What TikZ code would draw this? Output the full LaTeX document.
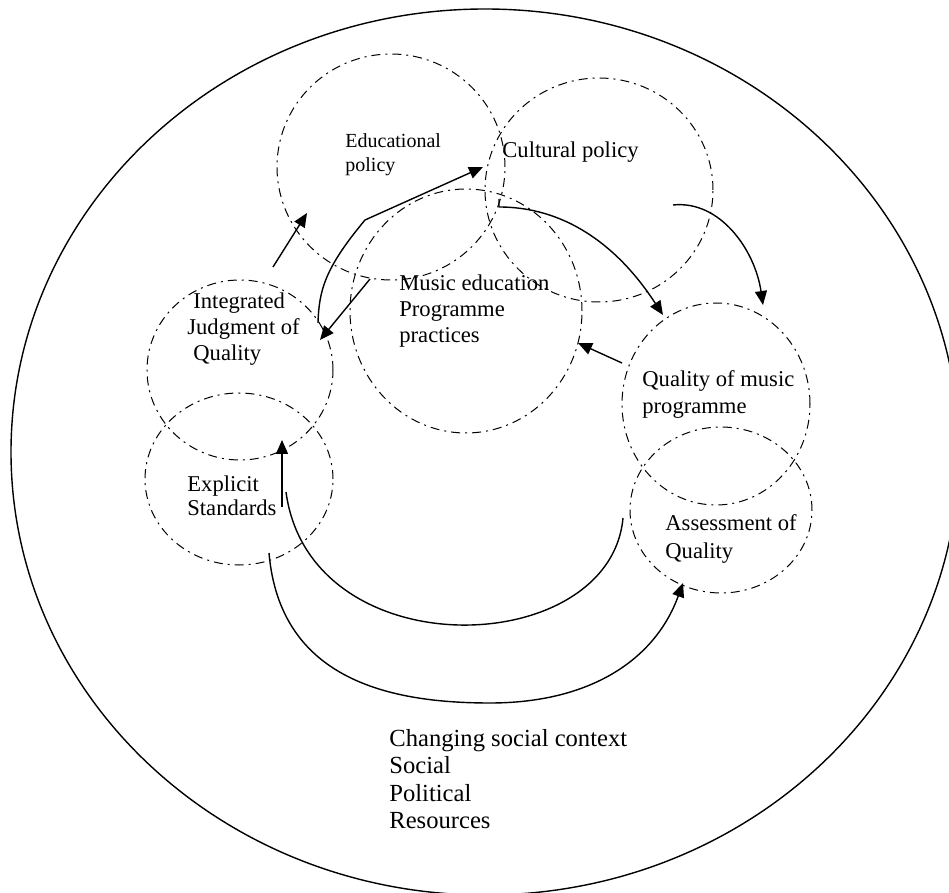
\documentclass[tikz,border=0pt]{standalone}
\usepackage{fontspec}
\setmainfont{Liberation Serif}
\usetikzlibrary{arrows.meta,shapes.geometric}

\begin{document}
\begin{tikzpicture}[x=0.5pt,y=-0.5pt,
ring/.style={draw,ellipse,line width=0.5pt,dash pattern=on 4.5pt off 2.5pt on 1pt off 2.5pt,inner sep=0pt,outer sep=0pt},
lbl/.style={align=left,anchor=west,inner sep=0pt,font=\fontsize{11.3}{13.5}\selectfont},
link/.style={line width=0.7pt},
arr/.style={link,-{Triangle[length=7pt,width=6pt]}}]
\useasboundingbox (0,0) rectangle (949,893);
% outer context
\node[draw,ellipse,line width=0.7pt,minimum width=474pt,minimum height=443pt,inner sep=0pt] (ctx) at (485,452) {};
% dash-dot circles
\node[ring,minimum width=114pt,minimum height=113pt] (edu) at (391,167) {};
\node[ring,minimum width=114pt,minimum height=112pt] (cult) at (599,190) {};
\node[ring,minimum width=116pt,minimum height=122pt] (music) at (466,311) {};
\node[ring,minimum width=93pt,minimum height=90pt] (integ) at (240,370) {};
\node[ring,minimum width=94pt,minimum height=86pt] (expl) at (239,479) {};
\node[ring,minimum width=94pt,minimum height=101pt] (qual) at (716,404) {};
\node[ring,minimum width=91pt,minimum height=83pt] (assess) at (721,510) {};
% labels
\node[lbl,font=\fontsize{10}{12}\selectfont] (edu-t) at (345,155) {Educational\\policy};
\node[lbl] (cult-t) at (502,152) {Cultural policy};
\node[lbl,font=\fontsize{11.3}{13}\selectfont] (music-t) at (399,311) {Music education\\Programme\\practices};
\node[lbl,font=\fontsize{11.3}{13}\selectfont] (integ-t) at (187,329) {\hspace*{3pt}Integrated\\Judgment of\\\hspace*{3pt}Quality};
\node[lbl,font=\fontsize{11.3}{12}\selectfont] (expl-t) at (187,496) {Explicit\\Standards};
\node[lbl] (qual-t) at (642,394) {Quality of music\\programme};
\node[lbl,font=\fontsize{11.3}{14}\selectfont] (assess-t) at (665,539) {Assessment of\\Quality};
\node[lbl,font=\fontsize{12.3}{13.75}\selectfont] (ctx-t) at (389,779) {Changing social context\\Social\\Political\\Resources};
% connector ends
\coordinate (a1s) at (273,267); \coordinate (a1e) at (307,213);
\coordinate (a2s) at (318,323); \coordinate (a2m) at (365,220); \coordinate (a2e) at (483,167);
\coordinate (a3s) at (370,279); \coordinate (a3e) at (320,340);
\coordinate (a4s) at (499,199); \coordinate (a4m) at (499,207); \coordinate (a4e) at (663,315);
\coordinate (a5s) at (673,205); \coordinate (a5e) at (763,305);
\coordinate (a6s) at (622,363); \coordinate (a6e) at (578,343);
\coordinate (a7s) at (623,518); \coordinate (a7e) at (286,492);
\coordinate (a8s) at (282,507); \coordinate (a8e) at (282,440);
\coordinate (a9s) at (269,553); \coordinate (a9m) at (490,703); \coordinate (a9e) at (683,583);
% arrows
\draw[arr](a1s)--(a1e);
\draw[arr](a2s)..controls(319,290)and(325,268)..(a2m)--(a2e);
\draw[arr](a3s)--(a3e);
\draw[arr](a4s)--(a4m)..controls(590,207)and(640,280)..(a4e);
\draw[arr](a5s)..controls(720,200)and(755,250)..(a5e);
\draw[arr](a6s)--(a6e);
\draw[link](a7s)..controls(610,660)and(310,670)..(a7e);
\draw[arr](a8s)--(a8e);
\draw[arr](a9s)..controls(280,680)and(390,703)..(a9m)..controls(590,703)and(655,660)..(a9e);
\end{tikzpicture}
\end{document}
